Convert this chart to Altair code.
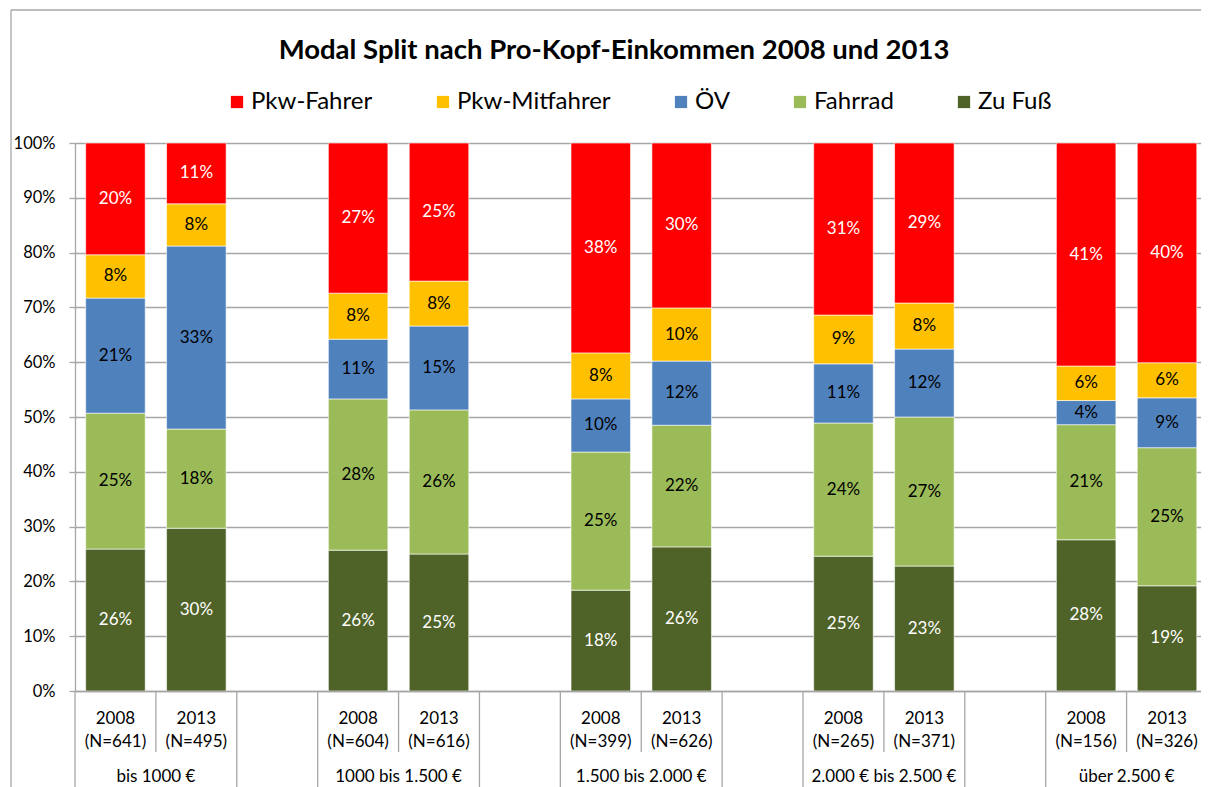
import altair as alt
import pandas as pd

# ---------------- data ----------------
title_text = "Modal Split nach Pro-Kopf-Einkommen 2008 und 2013"
groups = ["bis 1000 €", "1000 bis 1.500 €", "1.500 bis 2.000 €", "2.000 € bis 2.500 €", "über 2.500 €"]
years = ["2008", "2013"]
n_values = [641, 495, 604, 616, 399, 626, 265, 371, 156, 326]

modes_legend = ["Pkw-Fahrer", "Pkw-Mitfahrer", "ÖV", "Fahrrad", "Zu Fuß"]
mode_colors = ["#FF0000", "#FFC000", "#4F81BD", "#9BBB59", "#4F6228"]

# shares in percent, one value per bar (group x year)
zu_fuss   = [25.9, 29.7, 25.7, 25.0, 18.4, 26.3, 24.6, 22.8, 27.6, 19.2]
fahrrad   = [24.8, 18.1, 27.6, 26.3, 25.2, 22.2, 24.3, 27.2, 21.0, 25.2]
oev       = [21.0, 33.4, 10.9, 15.3,  9.7, 11.7, 10.8, 12.4,  4.4,  9.1]
mitfahrer = [ 7.9,  7.7,  8.4,  8.2,  8.4,  9.7,  8.9,  8.4,  6.3,  6.4]
fahrer    = [20.4, 11.1, 27.4, 25.2, 38.3, 30.1, 31.4, 29.2, 40.7, 40.1]

y_ticks = [0, 10, 20, 30, 40, 50, 60, 70, 80, 90, 100]

# ---------------- tables ----------------
stack_modes = [("Zu Fuß", zu_fuss), ("Fahrrad", fahrrad), ("ÖV", oev),
               ("Pkw-Mitfahrer", mitfahrer), ("Pkw-Fahrer", fahrer)]
rows = []
for order, (mode, vals) in enumerate(stack_modes):
    for i, v in enumerate(vals):
        rows.append({"bar": i, "g": i // 2, "j": i % 2, "mode": mode, "order": order, "value": v})
df = pd.DataFrame(rows)

bars_df = pd.DataFrame({"bar": list(range(10)), "g": [i // 2 for i in range(10)],
                        "j": [i % 2 for i in range(10)],
                        "year": [years[i % 2] for i in range(10)],
                        "n": n_values})
groups_df = pd.DataFrame({"g": list(range(len(groups))), "label": groups})
title_df = pd.DataFrame({"t": [title_text]})
# category boundaries (slot index): full-height group boundaries and short bar boundaries
sep_df = pd.DataFrame({
    "pos": [0, 2, 3, 5, 6, 8, 9, 11, 12, 1, 4, 7, 10, 13],
    "kind": ["full"] * 9 + ["short"] * 5,
})

SLOT_MAX = 13.92
W, H = 1126, 548
GRAY = "#A6A6A6"
FONT = "Lato"

xscale = alt.Scale(domain=[0, SLOT_MAX], nice=False, zero=False)
yscale = alt.Scale(domain=[0, 100], nice=False)

base = alt.Chart(df).transform_calculate(
    slot="3 * datum.g + datum.j",
).transform_calculate(
    x0="datum.slot + 0.132", x1="datum.slot + 0.868", xc="datum.slot + 0.5"
).transform_stack(
    stack="value", groupby=["bar"], as_=["y0", "y1"], sort=[alt.SortField("order", "ascending")]
).transform_calculate(
    ymid="(datum.y0 + datum.y1) / 2",
    lbl="format(datum.value, '.0f') + '%'",
)

bars = base.mark_bar(clip=True, stroke="white", strokeWidth=0.6).encode(
    x=alt.X("x0:Q", scale=xscale,
            axis=alt.Axis(labels=False, ticks=False, grid=False, domain=True,
                          domainColor=GRAY, domainWidth=1.3, title=None)),
    x2="x1:Q",
    y=alt.Y("y0:Q", scale=yscale,
            axis=alt.Axis(values=y_ticks, labelExpr="datum.value + '%'", title=None,
                          grid=True, gridColor=GRAY, gridWidth=1.3,
                          domain=True, domainColor=GRAY, domainWidth=1.3,
                          ticks=True, tickColor=GRAY, tickSize=6, tickWidth=1.3,
                          labelFont=FONT, labelFontSize=16.5, labelColor="black",
                          labelPadding=14)),
    y2="y1:Q",
    color=alt.Color("mode:N",
                    scale=alt.Scale(domain=modes_legend, range=mode_colors),
                    legend=alt.Legend(title=None, orient="none", direction="horizontal",
                                      legendX=150, legendY=-53,
                                      symbolType="square", symbolSize=150,
                                      symbolStrokeWidth=0, labelFont=FONT,
                                      labelFontSize=24, labelColor="black",
                                      labelOffset=2, columnPadding=58, padding=0)),
    order=alt.Order("order:Q"),
)

labels = base.mark_text(font=FONT, fontSize=17, clip=True).encode(
    x=alt.X("xc:Q", scale=xscale),
    y=alt.Y("ymid:Q", scale=yscale),
    text="lbl:N",
    color=alt.condition("datum.mode == 'Pkw-Fahrer' || datum.mode == 'Zu Fuß'",
                        alt.value("white"), alt.value("black")),
)

bar_base = alt.Chart(bars_df).transform_calculate(
    xc="3 * datum.g + datum.j + 0.5",
    nlbl="'(N=' + datum.n + ')'",
)
year_text = bar_base.mark_text(font=FONT, fontSize=17, color="black").encode(
    x=alt.X("xc:Q", scale=xscale), y=alt.value(H + 28), text="year:N")
n_text = bar_base.mark_text(font=FONT, fontSize=17, color="black").encode(
    x=alt.X("xc:Q", scale=xscale), y=alt.value(H + 51), text="nlbl:N")

group_text = alt.Chart(groups_df).transform_calculate(
    xc="3 * datum.g + 1"
).mark_text(font=FONT, fontSize=17, color="black").encode(
    x=alt.X("xc:Q", scale=xscale), y=alt.value(H + 86), text="label:N")

title_mark = alt.Chart(title_df).mark_text(
    font=FONT, fontSize=27.5, fontWeight="bold", color="black", baseline="middle"
).encode(x=alt.value(539), y=alt.value(-92), text="t:N")

sep_full = alt.Chart(sep_df).transform_filter("datum.kind == 'full'").mark_rule(
    color=GRAY, strokeWidth=1.3).encode(
    x=alt.X("pos:Q", scale=xscale), y=alt.value(H), y2=alt.value(H + 120))
sep_short = alt.Chart(sep_df).transform_filter("datum.kind == 'short'").mark_rule(
    color=GRAY, strokeWidth=1.3).encode(
    x=alt.X("pos:Q", scale=xscale), y=alt.value(H), y2=alt.value(H + 61))

frame_left = alt.Chart(title_df).mark_rule(color=GRAY, strokeWidth=1.3).encode(
    x=alt.value(-64), y=alt.value(-133), y2=alt.value(H + 120))
frame_top = alt.Chart(title_df).mark_rule(color=GRAY, strokeWidth=1.3).encode(
    x=alt.value(-64), x2=alt.value(W + 20), y=alt.value(-133))

chart = alt.layer(
    frame_left, frame_top, title_mark, bars, labels, sep_full, sep_short,
    year_text, n_text, group_text
).properties(
    width=W, height=H,
    autosize=alt.AutoSizeParams(type="none"),
    padding={"left": 67, "top": 135, "right": 0, "bottom": 96},
).configure_view(stroke=None).resolve_scale(x="shared", y="shared")

chart.save("out.html", embed_options={"renderer": "svg", "actions": False})
